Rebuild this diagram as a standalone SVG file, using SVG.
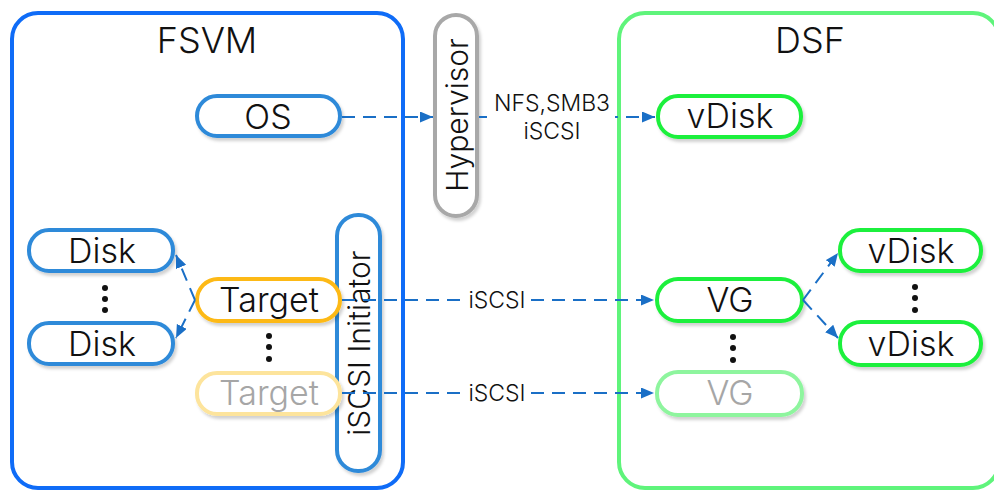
<svg xmlns="http://www.w3.org/2000/svg" width="994" height="491" viewBox="0 0 994 491">
<style>
text{font-family:Inter,"Liberation Sans",sans-serif;font-weight:300;fill:#111;text-anchor:middle;dominant-baseline:central}
.n{font-size:34px}
.t{font-size:36px}
.v{font-size:30px}
.l{font-size:23px}
.node{fill:#fff;stroke-width:4;filter:url(#sh)}
.blue{stroke:#2f8ad9}
.org{stroke:#fdb913}
.orgf{stroke:#fde49c}
.grn{stroke:#1ef03c}
.grnf{stroke:#8ef59e}
.gray{stroke:#a8a8a8}
.faded{fill:#a6a6a6}
.c{fill:none;stroke:#1a6fc6;stroke-width:2;stroke-dasharray:13 8;marker-end:url(#ah)}
.dot{fill:#111}
.lb{fill:#fff}
</style>
<defs>
<filter id="sh" x="-20%" y="-20%" width="140%" height="150%">
<feDropShadow dx="2" dy="3" stdDeviation="1.5" flood-color="#000" flood-opacity="0.18"/>
</filter>
<marker id="ah" markerUnits="userSpaceOnUse" markerWidth="14" markerHeight="12" refX="13" refY="5.5" orient="auto">
<path d="M0,0 L13,5.5 L0,11 Z" fill="#1a6fc6"/>
</marker>
</defs>
<rect width="994" height="491" fill="#fff"/>
<g id="fsvm">
<rect x="12" y="13" width="391" height="475" rx="26" fill="none" stroke="#0f6cf7" stroke-width="4"/>
<text class="t" x="207" y="40">FSVM</text>
</g>
<g id="dsf">
<rect x="619" y="13" width="380" height="475" rx="26" fill="none" stroke="#5ff47b" stroke-width="4"/>
<text class="t" x="810" y="40">DSF</text>
</g>
<g id="hypervisor">
<rect class="node gray" x="435" y="15" width="42" height="201" rx="21"/>
<text class="v" transform="translate(457 115) rotate(-90)">Hypervisor</text>
</g>
<g id="initiator">
<rect class="node blue" x="337" y="215" width="43" height="256" rx="21"/>
<text class="v" transform="translate(359 343) rotate(-90)">iSCSI Initiator</text>
</g>
<g id="os">
<rect class="node blue" x="197" y="96" width="143" height="40" rx="20"/>
<text class="n" x="268" y="116">OS</text>
</g>
<g id="disk1">
<rect class="node blue" x="29" y="230" width="144" height="41" rx="20"/>
<text class="n" x="102" y="250">Disk</text>
</g>
<g id="disk-dots">
<circle class="dot" cx="105" cy="288" r="3"/><circle class="dot" cx="105" cy="299" r="3"/><circle class="dot" cx="105" cy="310" r="3"/>
</g>
<g id="disk2">
<rect class="node blue" x="29" y="323" width="144" height="41" rx="20"/>
<text class="n" x="102" y="343">Disk</text>
</g>
<g id="target1">
<rect class="node org" x="197" y="279" width="143" height="42" rx="21"/>
<text class="n" x="269" y="299">Target</text>
</g>
<g id="target-dots">
<circle class="dot" cx="269" cy="336" r="3"/><circle class="dot" cx="269" cy="347" r="3"/><circle class="dot" cx="269" cy="359" r="3"/>
</g>
<g id="target2">
<rect class="node orgf" x="197" y="373" width="143" height="41" rx="20"/>
<text class="n faded" x="269" y="392">Target</text>
</g>
<g id="vdisk-top">
<rect class="node grn" x="658" y="96" width="143" height="41" rx="20"/>
<text class="n" x="730" y="115">vDisk</text>
</g>
<g id="vg1">
<rect class="node grn" x="657" y="279" width="145" height="42" rx="21"/>
<text class="n" x="730" y="299">VG</text>
</g>
<g id="vg-dots">
<circle class="dot" cx="733" cy="337" r="3"/><circle class="dot" cx="733" cy="348" r="3"/><circle class="dot" cx="733" cy="360" r="3"/>
</g>
<g id="vg2">
<rect class="node grnf" x="657" y="372" width="145" height="43" rx="21"/>
<text class="n faded" x="730" y="392">VG</text>
</g>
<g id="vdisk-r1">
<rect class="node grn" x="840" y="230" width="141" height="41" rx="20"/>
<text class="n" x="911" y="250">vDisk</text>
</g>
<g id="vdisk-dots">
<circle class="dot" cx="915" cy="287" r="3"/><circle class="dot" cx="915" cy="298" r="3"/><circle class="dot" cx="915" cy="310" r="3"/>
</g>
<g id="vdisk-r2">
<rect class="node grn" x="840" y="322" width="141" height="43" rx="21"/>
<text class="n" x="911" y="343">vDisk</text>
</g>
<g id="connectors">
<path class="c" d="M342,117 L433,117"/>
<path class="c" d="M479,117 L655,117"/>
<path class="c" d="M342,300 L654,300"/>
<path class="c" d="M342,393 L654,393"/>
<path class="c" d="M195,300 L176,255"/>
<path class="c" d="M195,300 L176,338"/>
<path class="c" d="M803,300 L838,253"/>
<path class="c" d="M803,300 L838,338"/>
<rect class="lb" x="487" y="88" width="128" height="58"/>
<text class="l" x="552" y="103">NFS,SMB3</text>
<text class="l" x="552" y="131">iSCSI</text>
<rect class="lb" x="465" y="288" width="65" height="24"/>
<text class="l" x="497" y="300">iSCSI</text>
<rect class="lb" x="465" y="381" width="65" height="24"/>
<text class="l" x="497" y="393">iSCSI</text>
</g>
</svg>
